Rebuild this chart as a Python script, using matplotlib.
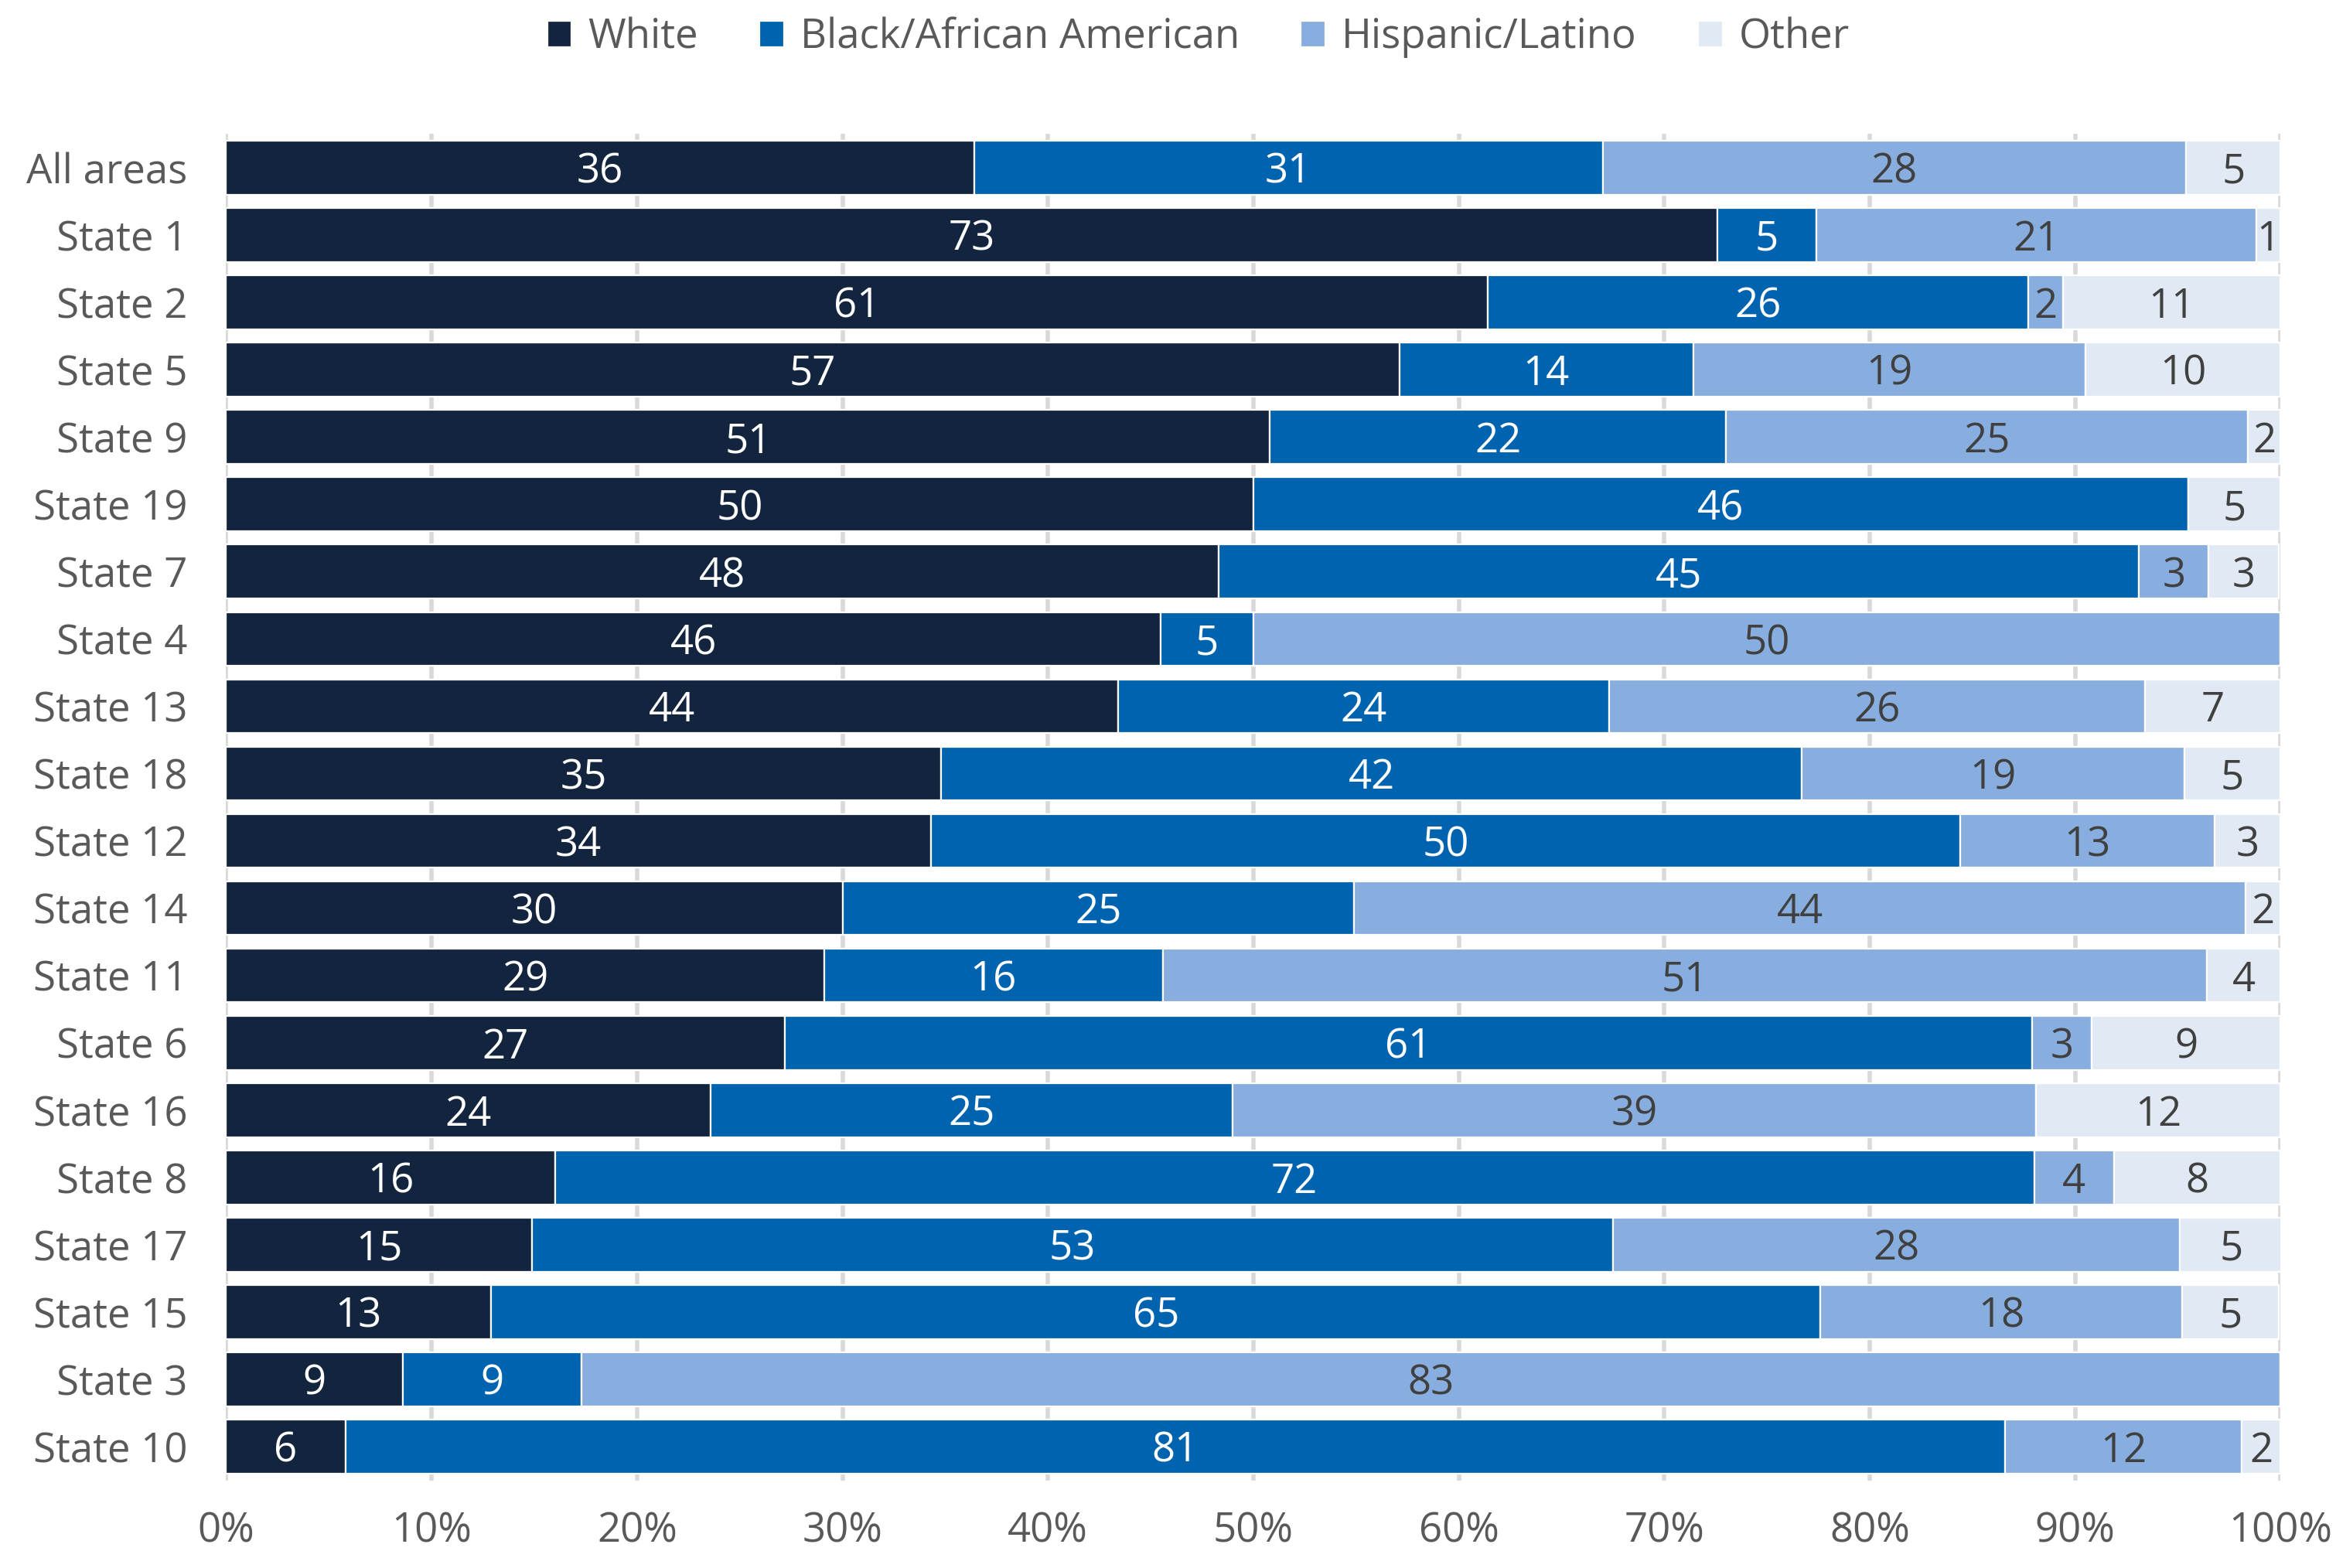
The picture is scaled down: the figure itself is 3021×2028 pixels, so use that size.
import numpy as np
import matplotlib
matplotlib.use("Agg")
import matplotlib.pyplot as plt

# data (bar widths in %, labels are rounded values)
areas = ["All areas", "State 1", "State 2", "State 5", "State 9", "State 19", "State 7",
         "State 4", "State 13", "State 18", "State 12", "State 14", "State 11", "State 6",
         "State 16", "State 8", "State 17", "State 15", "State 3", "State 10"]
white = [36.4, 72.6, 61.4, 57.1, 50.8, 50.0, 48.3, 45.5, 43.4, 34.8, 34.3, 30.0, 29.1, 27.2,
         23.6, 16.0, 14.9, 12.9, 8.6, 5.8]
black = [30.6, 4.8, 26.3, 14.3, 22.2, 45.5, 44.8, 4.5, 23.9, 41.9, 50.1, 24.9, 16.5, 60.7,
         25.4, 72.0, 52.6, 64.7, 8.7, 80.8]
hispanic = [28.4, 21.4, 1.7, 19.1, 25.4, 0.0, 3.4, 50.0, 26.1, 18.6, 12.4, 43.4, 50.8, 2.9,
            39.1, 3.9, 27.6, 17.6, 82.7, 11.5]
other = [4.6, 1.2, 10.6, 9.5, 1.6, 4.5, 3.4, 0.0, 6.6, 4.7, 3.2, 1.7, 3.6, 9.2,
         11.9, 8.1, 5.0, 4.7, 0.0, 1.9]

white_lbl = [36, 73, 61, 57, 51, 50, 48, 46, 44, 35, 34, 30, 29, 27, 24, 16, 15, 13, 9, 6]
black_lbl = [31, 5, 26, 14, 22, 46, 45, 5, 24, 42, 50, 25, 16, 61, 25, 72, 53, 65, 9, 81]
hisp_lbl = [28, 21, 2, 19, 25, None, 3, 50, 26, 19, 13, 44, 51, 3, 39, 4, 28, 18, 83, 12]
other_lbl = [5, 1, 11, 10, 2, 5, 3, None, 7, 5, 3, 2, 4, 9, 12, 8, 5, 5, None, 2]

series = ["White", "Black/African American", "Hispanic/Latino", "Other"]
colors = ["#13243F", "#0063AF", "#88AEE0", "#E1EAF4"]
text_colors = ["white", "white", "#404040", "#404040"]

plt.rcParams["font.family"] = ["Open Sans", "DejaVu Sans"]
fs = 19

fig = plt.figure(figsize=(15.105, 10.14), dpi=200)
ax = fig.add_axes([0.0968, 0.0559, 0.8795, 0.8586])

y = np.arange(len(areas))
left = np.zeros(len(areas))
vals = [white, black, hispanic, other]
lbls = [white_lbl, black_lbl, hisp_lbl, other_lbl]
for name, v, lb, c, tc in zip(series, vals, lbls, colors, text_colors):
    v = np.array(v)
    ax.barh(y, v, left=left, height=0.8, color=c, edgecolor="white", linewidth=0.8,
            label=name, zorder=3)
    for i in range(len(areas)):
        if lb[i] is None:
            continue
        ax.text(left[i] + v[i] / 2, y[i] + 0.07, str(lb[i]), ha="center", va="center",
                color=tc, fontsize=fs, zorder=4)
    left = left + v

ax.set_xlim(0, 100)
ax.set_ylim(len(areas) - 0.5, -0.5)
ax.set_yticks(y)
ax.set_yticklabels(areas, fontsize=fs, color="#595959")
ax.set_xticks(np.arange(0, 101, 10))
ax.set_xticklabels([f"{t}%" for t in range(0, 101, 10)], fontsize=fs, color="#595959")
ax.tick_params(axis="y", length=0, pad=18)
ax.tick_params(axis="x", length=0, pad=14)
ax.grid(axis="x", color="#D9D9D9", linewidth=2, zorder=0)
for s in ax.spines.values():
    s.set_visible(False)

fig.legend(loc="center", bbox_to_anchor=(0.513, 0.976), ncol=4, frameon=False,
           fontsize=fs, handlelength=0.6, handleheight=0.6, columnspacing=1.5,
           handletextpad=0.4, labelcolor="#595959")

fig.savefig("out.png", dpi=200)
